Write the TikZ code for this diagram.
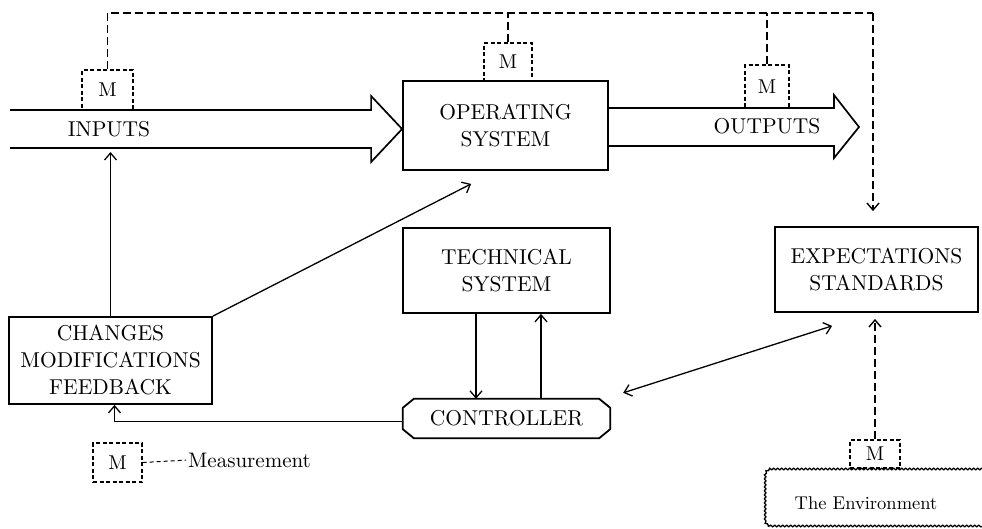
\documentclass[tikz,border=0pt]{standalone}
\usepackage{fontspec}
\setmainfont{lmroman10}[Extension=.otf, UprightFont=*-regular, ItalicFont=*-italic, BoldFont=*-bold]
\usepackage{tikz}
\usetikzlibrary{positioning, arrows.meta, calc, decorations.pathmorphing}

\begin{document}
\begin{tikzpicture}[
  x=1pt, y=-1pt,
  >={Straight Barb[length=7pt, width=12pt]},
  box/.style={draw, line width=1.8pt, minimum width=#1, minimum height=86pt, align=center, font=\fontsize{21.5}{27}\selectfont, inner sep=2pt},
  box/.default=205pt,
  mbox/.style={draw, dash pattern=on 4pt off 2.5pt, line width=1.3pt, minimum width=#1, minimum height=38pt, inner sep=0pt, font=\fontsize{20}{22}\selectfont},
  mbox/.default=48pt,
  lbl/.style={font=\fontsize{21.5}{27}\selectfont, inner sep=0pt},
  flow/.style={line width=1.7pt, line join=miter},
  arr/.style={->, line width=1.3pt},
  meas/.style={line width=1.4pt, dash pattern=on 8pt off 4pt},
  envline/.style={line width=1.3pt, decorate, decoration={snake, amplitude=0.8pt, segment length=4pt}},
]
\useasboundingbox (0,0) rectangle (982,528);

% === BOXES ===
\node[box=205pt, minimum height=89pt] (opsys) at (505.5,125.5) {OPERATING\\SYSTEM};
\node[box=207pt, minimum height=85pt] (techsys) at (506.5,270.5) {TECHNICAL\\SYSTEM};
\node[box=203pt, minimum height=85pt] (expect) at (876.5,269.5) {EXPECTATIONS\\STANDARDS};
\node[box=203pt, minimum height=87pt] (changes) at (110.5,360.5) {CHANGES\\MODIFICATIONS\\FEEDBACK};

% controller with cut corners
\node[lbl, minimum width=207pt, minimum height=39pt] (ctrl) at (506.5,418.5) {CONTROLLER};
\draw[line width=1.8pt] ([xshift=11pt]ctrl.north west) -- ([xshift=-11pt]ctrl.north east)
  -- ([yshift=-9pt]ctrl.north east) -- ([yshift=9pt]ctrl.south east)
  -- ([xshift=-11pt]ctrl.south east) -- ([xshift=11pt]ctrl.south west)
  -- ([yshift=9pt]ctrl.south west) -- ([yshift=-9pt]ctrl.north west) -- cycle;

% === INPUTS / OUTPUTS ===
\coordinate (in_start) at (10,129);
\coordinate (in_tip) at (opsys.west |- in_start);
\draw[flow] ($(in_start)+(0,-19)$) -- ($(in_tip)+(-31,-19)$) -- ($(in_tip)+(-31,-33)$) -- (in_tip)
  -- ($(in_tip)+(-31,33)$) -- ($(in_tip)+(-31,19)$) -- ($(in_start)+(0,19)$);
\node[lbl] (inputs) at (109,129) {INPUTS};

\coordinate (out_tip) at (859,127);
\coordinate (out_start) at (opsys.east |- out_tip);
\draw[flow] ($(out_start)+(0,-19)$) -- ($(out_tip)+(-25,-19)$) -- ($(out_tip)+(-25,-32)$) -- (out_tip)
  -- ($(out_tip)+(-25,31)$) -- ($(out_tip)+(-25,19)$) -- ($(out_start)+(0,19)$);
\node[lbl] (outputs) at (767,126) {OUTPUTS};

% === MEASUREMENT POINTS ===
\node[mbox=51pt, minimum height=40pt] (m_in) at (107.5,90) {M};
\node[mbox=48pt] (m_op) at (508,62) {M};
\node[mbox=44pt, minimum height=43pt] (m_out) at (767,86.5) {M};

\coordinate (meas_corner) at (873,13);
\draw[meas] (m_in.north) |- (meas_corner);
\draw[meas] (m_op.north) -- (m_op.north |- meas_corner);
\draw[meas] (m_out.north) -- (m_out.north |- meas_corner);
\draw[meas, ->] (meas_corner) -- ([yshift=15pt]meas_corner |- expect.north);

% === ENVIRONMENT ===
\node[font=\fontsize{18.5}{22}\selectfont, inner sep=0pt] (env) at (866,503) {The Environment};
\draw[envline] (985,469) -- (772,469) to[out=180, in=90] (766,476) -- (766,520)
  to[out=-90, in=180] (772,526) -- (985,526);
\node[mbox=50pt, minimum height=28pt] (m_env) at (875,454) {M};
\draw[meas, ->] (m_env.north) -- ([yshift=-6pt]m_env.north |- expect.south);

% === CONNECTORS ===
\draw[arr] (changes.north) -- ([yshift=-23pt]changes.north |- in_start);
\draw[arr] (changes.north east) -- ($(opsys.south west)+(69,13)$);
\draw[arr] ([xshift=-30.5pt]techsys.south) -- ([xshift=-30.5pt]techsys.south |- ctrl.north);
\draw[arr] ([xshift=34.5pt]ctrl.north) -- ([xshift=34.5pt]ctrl.north |- techsys.south);
\draw[arr] ([yshift=-3pt]ctrl.west) -| ([xshift=4pt]changes.south);
\draw[<->, line width=1.3pt] ($(ctrl.north east)+(13,-6)$) -- ($(expect.south west)+(58,13)$);

% === LEGEND ===
\node[mbox=49pt, minimum height=39pt] (m_leg) at (117.5,462.5) {M};
\node[font=\fontsize{21}{23}\selectfont, anchor=west, inner sep=0pt] (legtext) at (188,460) {Measurement};
\draw[line width=1pt, dash pattern=on 4pt off 3pt, shorten >=2pt] (m_leg.east) -- (legtext.west);

\end{tikzpicture}
\end{document}
